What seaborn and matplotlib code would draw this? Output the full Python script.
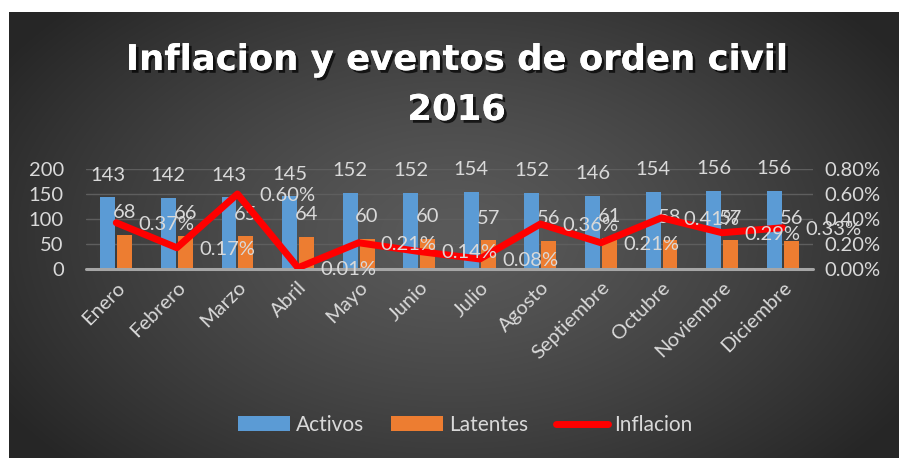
import numpy as np
import pandas as pd
import matplotlib
matplotlib.use("Agg")
import matplotlib.pyplot as plt
import seaborn as sns
from matplotlib import patheffects as pe
from matplotlib.patches import Patch
from matplotlib.lines import Line2D
from matplotlib.ticker import FuncFormatter

months = ["Enero", "Febrero", "Marzo", "Abril", "Mayo", "Junio", "Julio",
          "Agosto", "Septiembre", "Octubre", "Noviembre", "Diciembre"]
activos = [143, 142, 143, 145, 152, 152, 154, 152, 146, 154, 156, 156]
latentes = [68, 66, 65, 64, 60, 60, 57, 56, 61, 58, 57, 56]
inflacion = [0.37, 0.17, 0.60, 0.01, 0.21, 0.14, 0.08, 0.36, 0.21, 0.41, 0.29, 0.33]  # percent
left_ticks = [0, 50, 100, 150, 200]
right_ticks = [0.0, 0.2, 0.4, 0.6, 0.8]

BLUE = "#5b9bd5"
ORANGE = "#ed7d31"
RED = "#ff0000"
TXT = "#d9d9d9"

sns.set_theme(style="dark")
plt.rcParams['font.family'] = ['Lato', 'DejaVu Sans']

W, H = 899, 458
fig = plt.figure(figsize=(W / 100, H / 100), dpi=100, facecolor="white")

# radial gradient background
bg = fig.add_axes([9 / W, 0, (W - 9) / W, (H - 12) / H])
bh, bw = 446, 890
yy, xx = np.mgrid[0:bh, 0:bw]
r = np.sqrt(((xx - bw * 0.5) / (bw * 0.6)) ** 2 + ((yy - bh * 0.5) / (bh * 0.75)) ** 2)
v = (0x5a - (0x5a - 0x26) * np.clip(r, 0, 1) ** 1.3) / 255.0
img = np.dstack([v, v, v])
bg.imshow(img, aspect="auto", interpolation="bilinear")
bg.set_axis_off()

# main axes
ax = fig.add_axes([86 / W, 1 - 269 / H, 727 / W, 100 / H])
ax.set_facecolor("none")

df = pd.DataFrame({
    "Mes": months * 2,
    "Serie": ["Activos"] * len(months) + ["Latentes"] * len(months),
    "Valor": activos + latentes,
})
sns.barplot(data=df, x="Mes", y="Valor", hue="Serie",
            palette={"Activos": BLUE, "Latentes": ORANGE},
            width=0.56, gap=0.12, saturation=1, legend=False, ax=ax, zorder=2,
            linewidth=0, edgecolor="none")

for cont, vals in zip(ax.containers, [activos, latentes]):
    ax.bar_label(cont, labels=[str(x) for x in vals], padding=10,
                 color=TXT, fontsize=14.5, zorder=5)

ax.set_ylim(0, 200)
ax.set_yticks(left_ticks)
ax.yaxis.grid(True, color="#5e5e5e", lw=1, zorder=0)
ax.xaxis.grid(False)
ax.set_axisbelow(True)
for s in ax.spines.values():
    s.set_visible(False)
ax.axhline(0, color="#a6a6a6", lw=2.2, zorder=3, clip_on=False)
ax.set_xlabel("")
ax.set_ylabel("")
ax.tick_params(axis="y", length=0, pad=16, labelsize=14.5, labelcolor=TXT)
ax.tick_params(axis="x", length=0, pad=7, labelsize=14.5, labelcolor=TXT)

# inflation line on secondary axis
ax2 = ax.twinx()
sns.lineplot(x=np.arange(len(months)), y=inflacion, ax=ax2, color=RED, lw=5,
             sort=False, zorder=4, solid_joinstyle="round", solid_capstyle="round")
ax2.set_ylim(0, 0.8)
ax2.set_yticks(right_ticks)
ax2.yaxis.set_major_formatter(FuncFormatter(lambda y, p: f"{y:.2f}%"))
ax2.grid(False)
for s in ax2.spines.values():
    s.set_visible(False)
ax2.tick_params(axis="y", length=0, pad=8, labelsize=14.5, labelcolor=TXT)
ax2.set_ylabel("")
for i, val in enumerate(inflacion):
    ax2.annotate(f"{val:.2f}%", (i, val), xytext=(16, -1), textcoords="offset points",
                 ha="left", va="center", color=TXT, fontsize=14.5, zorder=6)

ax.set_xlim(-0.5, len(months) - 0.5)
ax.set_xticks(range(len(months)))
ax.set_xticklabels(months, rotation=45, ha="right", rotation_mode="anchor")

# title
shadow = [pe.withSimplePatchShadow(offset=(2, -2), shadow_rgbFace="black", alpha=0.7), pe.Normal()]
fig.text(0.508, 1 - 60 / H, "Inflacion y eventos de orden civil", ha="center", va="center",
         fontsize=25.5, fontweight="bold", color="white", path_effects=shadow,
         family=["DejaVu Sans"])
fig.text(0.508, 1 - 110 / H, "2016", ha="center", va="center",
         fontsize=25.5, fontweight="bold", color="white", path_effects=shadow,
         family=["DejaVu Sans"])

# legend
handles = [Patch(facecolor=BLUE, edgecolor="none", label="Activos"),
           Patch(facecolor=ORANGE, edgecolor="none", label="Latentes"),
           Line2D([0], [0], color=RED, lw=5, solid_capstyle="round", label="Inflacion")]
leg = fig.legend(handles=handles, loc="center", bbox_to_anchor=(465 / W, 1 - 425 / H),
                 ncol=3, frameon=False, fontsize=15, handlelength=2.5, handleheight=0.75,
                 handletextpad=0.3, columnspacing=1.3)
for t in leg.get_texts():
    t.set_color(TXT)

fig.savefig("out.png", dpi=100, facecolor="white")
